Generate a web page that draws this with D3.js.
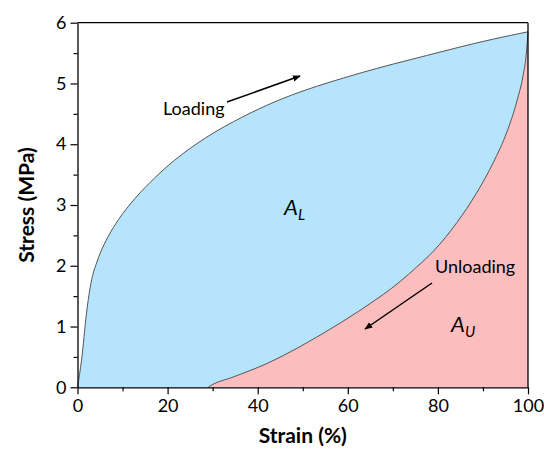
<!DOCTYPE html>
<html>
<head>
<meta charset="utf-8">
<script src="https://cdn.jsdelivr.net/npm/d3@7"></script>
<style>
  body { margin: 0; background: #fff; }
  text { font-family: Lato, "Open Sans", sans-serif; }
</style>
</head>
<body>
<div class="chart"></div>
<script>
// Loading / unloading curves (strain %, stress MPa)
var loadStrain = [0, 0.9, 2.0, 2.8, 3.5, 4.3, 5.0, 6.8, 9.1, 12.8, 17.2, 21.6, 26.1, 30.5, 34.6, 42.0, 49.4, 56.8, 62.7, 70.1, 77.5, 84.9, 92.3, 100];
var loadStress = [0, 0.45, 1.22, 1.64, 1.88, 2.06, 2.2, 2.48, 2.76, 3.11, 3.45, 3.74, 3.99, 4.2, 4.37, 4.64, 4.86, 5.04, 5.17, 5.32, 5.46, 5.6, 5.73, 5.85];

var unloadStrain = [29, 29.4, 34.6, 42, 49.4, 56.8, 64.2, 71.6, 75.3, 79, 81.6, 84.2, 88.6, 92.3, 95.3, 97.5, 99, 99.6, 100];
var unloadStress = [0, 0.02, 0.17, 0.39, 0.67, 0.99, 1.34, 1.74, 1.98, 2.24, 2.46, 2.71, 3.2, 3.7, 4.2, 4.7, 5.17, 5.47, 5.85];

var xTicks = [0, 20, 40, 60, 80, 100];
var yTicks = [0, 1, 2, 3, 4, 5, 6];

// Set up margins
var svgWidth = 544;
var svgHeight = 451;
var margin = { top: 22.7, right: 16, bottom: 63.7, left: 77.5 };
var width = svgWidth - margin.left - margin.right;
var height = svgHeight - margin.top - margin.bottom;

var svg = d3.select(".chart")
  .append("svg")
  .attr("width", svgWidth)
  .attr("height", svgHeight);

var defs = svg.append("defs");
defs.append("marker")
  .attr("id", "head")
  .attr("viewBox", "0 0 10 10")
  .attr("refX", 9)
  .attr("refY", 5)
  .attr("markerWidth", 8)
  .attr("markerHeight", 8)
  .attr("markerUnits", "userSpaceOnUse")
  .attr("orient", "auto")
  .append("path")
  .attr("d", "M0,1 L10,5 L0,9 Z")
  .attr("fill", "#000");

var chartGroup = svg.append("g")
  .attr("transform", `translate(${margin.left}, ${margin.top})`);

var xScale = d3.scaleLinear().domain([0, 100]).range([0, width]);
var yScale = d3.scaleLinear().domain([0, 6]).range([height, 0]);

var loadData = loadStrain.map((s, i) => ({ x: s, y: loadStress[i] }));
var unloadData = unloadStrain.map((s, i) => ({ x: s, y: unloadStress[i] }));

var area = d3.area()
  .x(d => xScale(d.x))
  .y0(yScale(0))
  .y1(d => yScale(d.y))
  .curve(d3.curveMonotoneX);

var line = d3.line()
  .x(d => xScale(d.x))
  .y(d => yScale(d.y))
  .curve(d3.curveMonotoneX);

// filled regions
chartGroup.append("path")
  .datum(loadData)
  .attr("d", area)
  .attr("fill", "#b5e4fc");

chartGroup.append("path")
  .datum(unloadData)
  .attr("d", area)
  .attr("fill", "#fbbdbd");

// curves
chartGroup.append("path")
  .datum(loadData)
  .attr("d", line)
  .attr("fill", "none")
  .attr("stroke", "#555")
  .attr("stroke-width", 1);

chartGroup.append("path")
  .datum(unloadData)
  .attr("d", line)
  .attr("fill", "none")
  .attr("stroke", "#555")
  .attr("stroke-width", 1);

// frame top & right
chartGroup.append("line")
  .attr("x1", 0).attr("x2", width).attr("y1", 0).attr("y2", 0)
  .attr("stroke", "#000").attr("stroke-width", 1.3);
chartGroup.append("line")
  .attr("x1", width).attr("x2", width).attr("y1", 0).attr("y2", height)
  .attr("stroke", "#000").attr("stroke-width", 1.3);

// minor ticks
chartGroup.append("g")
  .attr("transform", `translate(0, ${height})`)
  .call(d3.axisBottom(xScale).tickValues([10, 30, 50, 70, 90]).tickSize(4).tickFormat(""))
  .call(g => g.select(".domain").remove());
chartGroup.append("g")
  .call(d3.axisLeft(yScale).tickValues([0.5, 1.5, 2.5, 3.5, 4.5, 5.5]).tickSize(4).tickFormat(""))
  .call(g => g.select(".domain").remove());

// major axes
var xAxis = chartGroup.append("g")
  .attr("transform", `translate(0, ${height})`)
  .call(d3.axisBottom(xScale).tickValues(xTicks).tickFormat(d3.format("d")).tickSize(7).tickPadding(5).tickSizeOuter(0));
var yAxis = chartGroup.append("g")
  .call(d3.axisLeft(yScale).tickValues(yTicks).tickFormat(d3.format("d")).tickSize(7).tickPadding(4).tickSizeOuter(0));

chartGroup.selectAll(".tick line").attr("stroke-width", 1.2);
chartGroup.selectAll(".domain").attr("stroke-width", 1.3);
chartGroup.selectAll(".tick text")
  .attr("font-family", "Lato, sans-serif")
  .attr("font-size", "18px")
  .attr("fill", "#000");

// axis titles
chartGroup.append("text")
  .attr("x", width / 2)
  .attr("y", height + 56)
  .attr("text-anchor", "middle")
  .attr("font-size", "21px")
  .attr("font-weight", "bold")
  .text("Strain (%)");

chartGroup.append("text")
  .attr("transform", "rotate(-90)")
  .attr("x", -height / 2)
  .attr("y", -44)
  .attr("text-anchor", "middle")
  .attr("font-size", "21px")
  .attr("font-weight", "bold")
  .text("Stress (MPa)");

// annotations
svg.append("text")
  .attr("x", 163)
  .attr("y", 115)
  .attr("font-size", "18px")
  .text("Loading");

svg.append("line")
  .attr("x1", 227).attr("y1", 102)
  .attr("x2", 300).attr("y2", 76)
  .attr("stroke", "#000").attr("stroke-width", 1.5)
  .attr("marker-end", "url(#head)");

svg.append("text")
  .attr("x", 435)
  .attr("y", 273)
  .attr("font-size", "18px")
  .text("Unloading");

svg.append("line")
  .attr("x1", 432).attr("y1", 283)
  .attr("x2", 365).attr("y2", 329)
  .attr("stroke", "#000").attr("stroke-width", 1.5)
  .attr("marker-end", "url(#head)");

var al = svg.append("text")
  .attr("x", 284)
  .attr("y", 215)
  .attr("font-size", "22px")
  .attr("font-style", "italic");
al.append("tspan").text("A");
al.append("tspan").attr("dy", 5).attr("font-size", "15px").text("L");

var au = svg.append("text")
  .attr("x", 451)
  .attr("y", 332)
  .attr("font-size", "22px")
  .attr("font-style", "italic");
au.append("tspan").text("A");
au.append("tspan").attr("dy", 5).attr("font-size", "15px").text("U");
</script>
</body>
</html>
